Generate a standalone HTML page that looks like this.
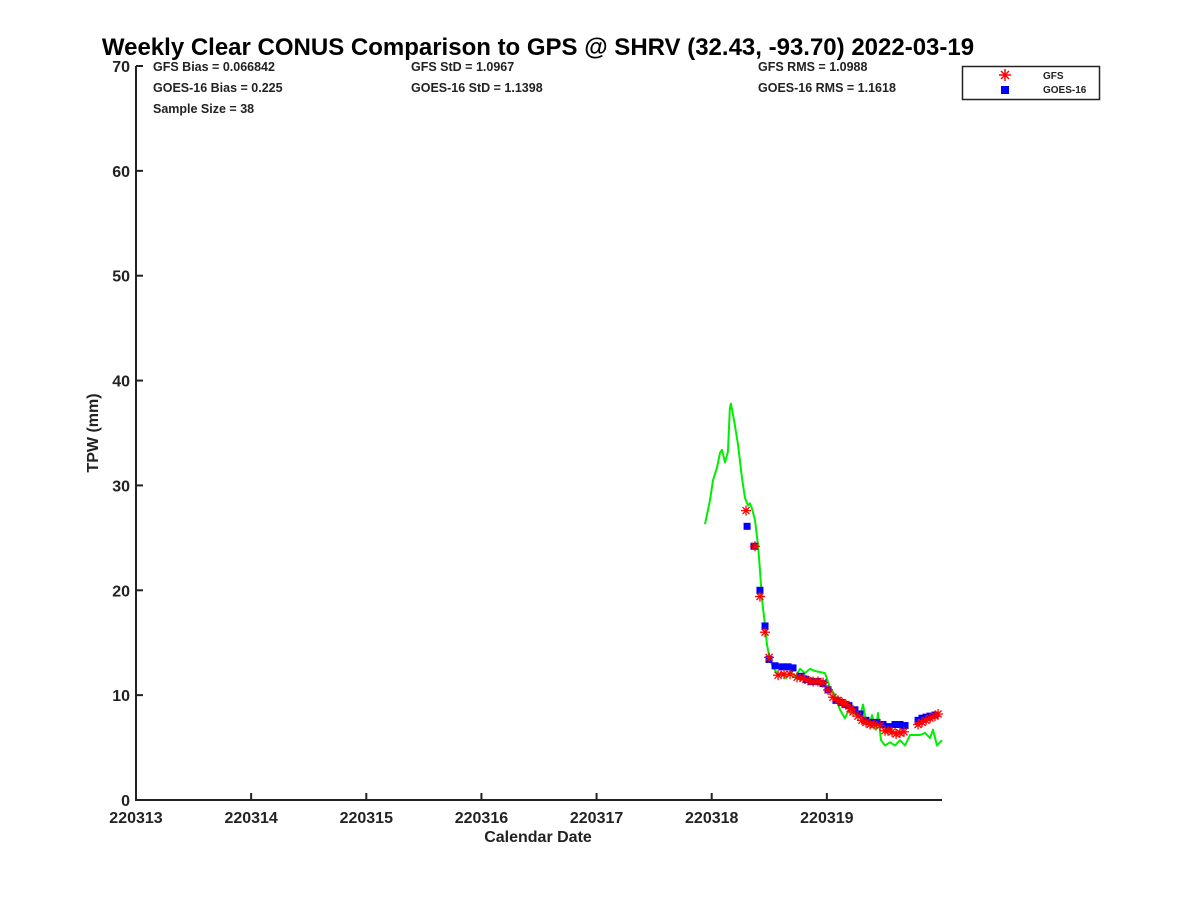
<!DOCTYPE html>
<html><head><meta charset="utf-8"><style>
body{margin:0;background:#fff;}
svg{display:block;font-family:"Liberation Sans","DejaVu Sans",sans-serif;font-weight:bold;}
</style></head><body>
<svg id="chart" width="1200" height="900" xmlns="http://www.w3.org/2000/svg">
<text x="538" y="55" font-size="24" text-anchor="middle" fill="#000">Weekly Clear CONUS Comparison to GPS @ SHRV (32.43, -93.70) 2022-03-19</text>
<g font-size="12.5" fill="#222">
<text x="153" y="71">GFS Bias = 0.066842</text>
<text x="153" y="92">GOES-16 Bias = 0.225</text>
<text x="153" y="113">Sample Size = 38</text>
<text x="411" y="71">GFS StD = 1.0967</text>
<text x="411" y="92">GOES-16 StD = 1.1398</text>
<text x="758" y="71">GFS RMS = 1.0988</text>
<text x="758" y="92">GOES-16 RMS = 1.1618</text>
</g>
<g id="axes"></g>
<g id="marks"></g>
<g>
<rect x="962.5" y="66.5" width="137" height="33" fill="#fff" stroke="#222" stroke-width="1.5"/>
<g stroke="#f00" stroke-width="1.5">
<line x1="999" y1="75" x2="1011" y2="75"/><line x1="1005" y1="69" x2="1005" y2="81"/><line x1="1001" y1="71" x2="1009" y2="79"/><line x1="1009" y1="71" x2="1001" y2="79"/></g>
<rect x="1001" y="86" width="8" height="8" fill="#0000ff"/>
<text x="1043" y="79" font-size="10" fill="#222">GFS</text>
<text x="1043" y="93" font-size="10" fill="#222">GOES-16</text>
</g>
<text x="538" y="842" font-size="16" text-anchor="middle" fill="#222">Calendar Date</text>
<text transform="translate(98,433) rotate(-90)" font-size="16" text-anchor="middle" fill="#222">TPW (mm)</text>
</svg>
<script>
const xTickLabels=["220313","220314","220315","220316","220317","220318","220319"];
const yTickLabels=[0,10,20,30,40,50,60,70];
const gpsDays=[4.942,4.985,5.011,5.046,5.072,5.089,5.115,5.141,5.158,5.167,5.194,5.228,5.263,5.289,5.315,5.332,5.350,5.376,5.402,5.419,5.437,5.463,5.480,5.506,5.524,5.550,5.576,5.611,5.645,5.680,5.723,5.767,5.810,5.854,5.897,5.984,6.027,6.071,6.114,6.157,6.201,6.244,6.288,6.314,6.340,6.375,6.392,6.427,6.444,6.470,6.505,6.549,6.592,6.635,6.679,6.722,6.809,6.853,6.896,6.922,6.957,7.0];
const gpsTPW=[26.3,28.6,30.5,31.7,33.1,33.4,32.2,33.2,37.4,37.8,36.2,33.9,30.7,28.8,28.1,28.3,27.8,26.7,24.3,21.9,19.1,16.7,14.8,13.4,12.9,12.4,11.9,12.1,11.6,12.3,11.7,12.5,12.1,12.5,12.3,12.1,10.7,10.0,8.6,7.8,8.8,8.2,8.0,9.1,7.6,7.2,8.1,6.7,8.3,5.7,5.2,5.5,5.2,5.7,5.2,6.2,6.2,6.4,5.9,6.7,5.2,5.7];
const gfsDays=[5.298,5.376,5.419,5.463,5.498,5.576,5.628,5.680,5.741,5.793,5.836,5.880,5.923,5.967,6.010,6.053,6.097,6.132,6.166,6.201,6.227,6.270,6.305,6.340,6.375,6.410,6.462,6.505,6.531,6.566,6.601,6.635,6.670,6.792,6.826,6.861,6.896,6.939,6.966];
const gfsTPW=[27.6,24.2,19.4,16.0,13.6,11.9,12.0,12.0,11.7,11.6,11.4,11.3,11.3,11.2,10.5,9.8,9.5,9.3,9.1,8.7,8.4,8.0,7.6,7.4,7.2,7.2,7.1,6.6,6.6,6.5,6.3,6.4,6.5,7.2,7.4,7.6,7.8,8.0,8.2];
const goesDays=[5.307,5.367,5.419,5.463,5.498,5.550,5.611,5.663,5.706,5.776,5.819,5.871,5.923,5.967,6.010,6.079,6.123,6.157,6.192,6.244,6.288,6.340,6.384,6.436,6.488,6.531,6.592,6.635,6.679,6.792,6.826,6.861,6.896,6.939];
const goesTPW=[26.1,24.2,20.0,16.6,13.4,12.8,12.7,12.7,12.6,11.8,11.5,11.3,11.3,11.1,10.5,9.5,9.3,9.1,9.0,8.6,8.2,7.6,7.4,7.4,7.2,7.0,7.2,7.2,7.1,7.6,7.8,7.9,8.0,8.1];

const NS='http://www.w3.org/2000/svg';
const X0=136,X1=942,Y0=800,Y1=66,XMAX=7,YMAX=70;
const xs=d=>X0+(X1-X0)*d/XMAX;
const ys=v=>Y0-(Y0-Y1)*v/YMAX;
function mk(tag,attrs,parent){const e=document.createElementNS(NS,tag);for(const k in attrs)e.setAttribute(k,attrs[k]);parent.appendChild(e);return e;}
const axes=document.getElementById('axes'),marks=document.getElementById('marks');
const xAxis=mk('line',{x1:X0,y1:Y0,x2:X1,y2:Y0,stroke:'#222','stroke-width':2},axes);


const yAxis=mk('line',{x1:X0,y1:Y0+1,x2:X0,y2:Y1,stroke:'#222','stroke-width':2},axes);


xTickLabels.forEach((l,i)=>{const x=xs(i);
 const t=mk('line',{x1:x,y1:Y0,x2:x,y2:Y0-7,stroke:'#222','stroke-width':2},axes);
 
 
 const tx=mk('text',{x:x,y:Y0+23,'font-size':16,'text-anchor':'middle',fill:'#222'},axes);tx.textContent=l;
 
 
});
yTickLabels.forEach(v=>{const y=ys(v);
 const t=mk('line',{x1:X0,y1:y,x2:X0+7,y2:y,stroke:'#222','stroke-width':2},axes);
 
 
 const tx=mk('text',{x:X0-6,y:y+6,'font-size':16,'text-anchor':'end',fill:'#222'},axes);tx.textContent=v;
 
 
});
const line=mk('polyline',{points:gpsDays.map((d,i)=>xs(d).toFixed(1)+','+ys(gpsTPW[i]).toFixed(1)).join(' '),fill:'none',stroke:'#00ee00','stroke-width':2,'stroke-linejoin':'round'},marks);


goesDays.forEach((d,i)=>{
 const r=mk('rect',{x:xs(d)-3.5,y:ys(goesTPW[i])-3.5,width:7,height:7,fill:'#0000ff'},marks);
 
 
});
gfsDays.forEach((d,i)=>{
 const cx=xs(d),cy=ys(gfsTPW[i]);
 const g=mk('g',{stroke:'#f00','stroke-width':1.3},marks);
 
 
 mk('line',{x1:cx-5,y1:cy,x2:cx+5,y2:cy},g);
 mk('line',{x1:cx,y1:cy-5,x2:cx,y2:cy+5},g);
 mk('line',{x1:cx-3.5,y1:cy-3.5,x2:cx+3.5,y2:cy+3.5},g);
 mk('line',{x1:cx+3.5,y1:cy-3.5,x2:cx-3.5,y2:cy+3.5},g);
});
</script>
</body></html>
